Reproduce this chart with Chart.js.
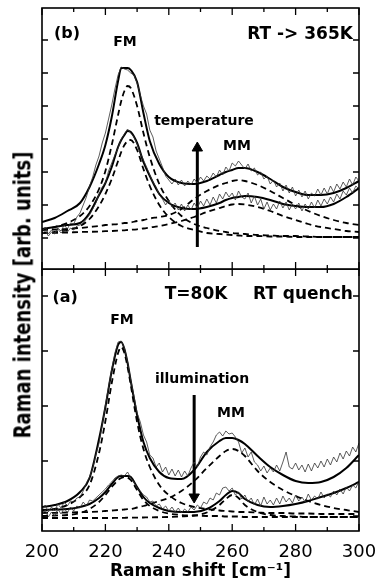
<!DOCTYPE html>
<html>
<head>
<meta charset="utf-8">
<script src="https://cdn.jsdelivr.net/npm/chart.js@4.4.1/dist/chart.umd.min.js"></script>
<style>
  body { margin: 0; background: #fff; }
  #wrap { position: relative; width: 378px; height: 588px; overflow: hidden; }
  #chartB { position: absolute; left: 0; top: 0; }
  #chartA { position: absolute; left: 0; top: 269px; }
  #ytitle {
    position: absolute; left: 22px; top: 295px;
    transform: translate(-50%, -50%) rotate(-90deg) scale(1, 1.3);
    font: bold 18px "DejaVu Sans"; white-space: nowrap; color: #000;
  }
</style>
</head>
<body>
<div id="wrap">
  <canvas id="chartB" width="378" height="270"></canvas>
  <canvas id="chartA" width="378" height="319"></canvas>
  <div id="ytitle">Raman intensity [arb. units]</div>
</div>
<script>
// Raman shift grids (cm^-1)
const rawShift = Array.from({ length: 101 }, (_, i) => 200 + i);
const fitShift = [200, 204, 208, 212, 215, 218, 220, 222, 224, 225, 226, 227, 228, 230, 232, 234, 237, 240,
  244, 248, 252, 256, 258, 260, 262, 264, 268, 272, 276, 280, 284, 288, 292, 296, 300];
const xTickLabels = [200, 220, 240, 260, 280, 300];
const xMinorTicks = [210, 230, 250, 270, 290];

// ---- panel (b): RT -> 365K ----
const dataB_hot = [3.7, 4.2, 3.5, 3.9, 3.6, 4.1, 3.8, 4.4, 4.0, 4.6,
  4.5, 5.2, 5.6, 6.4, 7.2, 8.3, 9.2, 10.4, 11.3, 12.6,
  13.6, 15.0, 16.4, 18.0, 19.4, 20.2, 20.0, 19.9, 19.6, 19.4,
  18.6, 17.4, 16.3, 15.5, 13.9, 13.2, 11.8, 11.0, 10.2, 9.3,
  8.9, 8.5, 9.0, 8.4, 8.9, 8.3, 8.8, 8.4, 9.0, 8.6,
  9.2, 8.8, 9.3, 9.0, 9.6, 9.2, 9.9, 9.4, 10.2, 9.8,
  10.6, 10.3, 10.8, 10.4, 10.0, 10.5, 9.8, 10.1, 9.4, 9.7,
  9.0, 9.3, 8.5, 8.9, 8.2, 8.6, 7.8, 8.4, 7.6, 8.2,
  7.3, 7.9, 7.2, 7.8, 7.0, 7.6, 7.3, 8.0, 7.4, 8.1,
  7.5, 8.3, 7.7, 8.5, 8.0, 8.7, 8.2, 9.0, 8.4, 9.2,
  8.8];
const dataB_rt = [3.4, 3.9, 3.3, 3.7, 3.5, 4.0, 3.6, 3.9, 3.7, 4.1,
  3.9, 4.3, 4.4, 4.6, 5.0, 5.4, 6.0, 6.6, 7.5, 8.2,
  8.6, 9.8, 10.6, 11.4, 12.1, 13.0, 13.5, 14.0, 13.6, 13.2,
  12.5, 11.6, 10.9, 10.2, 9.4, 8.7, 8.2, 7.4, 7.0, 6.4,
  6.9, 6.2, 6.6, 5.9, 6.5, 5.8, 6.4, 5.9, 6.6, 6.1,
  6.8, 6.3, 7.0, 6.4, 7.2, 6.6, 7.5, 7.0, 7.7, 7.2,
  7.6, 6.9, 7.8, 7.2, 7.0, 7.6, 6.6, 7.3, 6.4, 7.0,
  6.0, 6.7, 5.9, 6.5, 6.0, 6.8, 6.1, 6.7, 5.9, 6.5,
  6.0, 6.6, 5.8, 6.5, 6.0, 6.7, 6.1, 6.9, 6.3, 7.0,
  6.5, 7.2, 6.7, 7.5, 7.0, 7.8, 7.4, 8.1, 7.6, 8.3,
  8.0];
const fitB_hot = [4.7, 5.1, 5.8, 6.6, 8.2, 10.5, 12.4, 15.2, 18.8, 20.1, 20.1, 20.1, 19.9, 18.7, 15.6, 12.8, 10.5, 9.2,
  8.6, 8.5, 8.8, 9.4, 9.7, 9.9, 10.1, 10.1, 9.7, 9.0, 8.2, 7.7, 7.4, 7.4, 7.6, 8.1, 8.8];
const fitB_rt = [4.0, 4.2, 4.4, 4.6, 5.6, 7.4, 8.6, 10.2, 12.2, 12.9, 13.4, 13.8, 13.7, 12.6, 10.7, 9.3, 7.5, 6.6,
  6.1, 6.0, 6.2, 6.6, 6.9, 7.1, 7.2, 7.3, 7.2, 6.9, 6.5, 6.3, 6.2, 6.2, 6.5, 7.2, 8.1];
const fmB_hot = [3.9, 4.2, 4.6, 5.3, 6.3, 8.0, 9.8, 12.4, 15.4, 16.8, 17.8, 18.3, 18.1, 16.3, 13.6, 11.2, 8.5, 6.8,
  5.3, 4.5, 4.1, 3.8, 3.7, 3.6, 3.55, 3.5, 3.4, 3.35, 3.3, 3.3, 3.25, 3.2, 3.2, 3.2, 3.2];
const fmB_rt = [3.6, 3.7, 3.9, 4.3, 5.0, 6.3, 7.5, 9.0, 10.8, 11.7, 12.4, 12.8, 12.9, 11.9, 10.0, 8.3, 6.4, 5.2,
  4.3, 3.9, 3.6, 3.5, 3.45, 3.4, 3.35, 3.3, 3.3, 3.25, 3.25, 3.2, 3.2, 3.2, 3.2, 3.2, 3.2];
const mmB_hot = [3.9, 3.95, 4.0, 4.1, 4.2, 4.3, 4.4, 4.45, 4.5, 4.55, 4.6, 4.6, 4.65, 4.8, 4.9, 5.05, 5.2, 5.4,
  6.0, 7.0, 7.8, 8.4, 8.6, 8.8, 8.9, 8.8, 8.4, 7.8, 7.1, 6.4, 5.8, 5.3, 4.9, 4.6, 4.4];
const mmB_rt = [3.6, 3.62, 3.65, 3.7, 3.72, 3.75, 3.78, 3.8, 3.83, 3.85, 3.87, 3.9, 3.92, 3.97, 4.05, 4.15, 4.3, 4.5,
  4.8, 5.2, 5.7, 6.1, 6.3, 6.45, 6.5, 6.45, 6.2, 5.8, 5.3, 4.9, 4.5, 4.2, 4.0, 3.8, 3.7];

// ---- panel (a): T=80K, RT quench ----
const dataA_dark = [2.1, 2.6, 1.9, 2.4, 2.0, 2.7, 2.3, 2.9, 2.5, 3.0,
  2.9, 3.3, 3.4, 4.0, 4.8, 5.4, 6.3, 7.6, 8.8, 10.6,
  12.6, 14.4, 16.2, 17.8, 18.9, 19.0, 18.3, 16.9, 15.1, 13.5,
  11.8, 10.9, 9.6, 8.9, 7.6, 7.3, 6.4, 6.8, 5.9, 6.4,
  5.6, 6.2, 5.5, 6.1, 5.4, 6.0, 5.5, 6.3, 6.9, 6.4,
  7.4, 7.9, 7.6, 8.4, 8.9, 9.6, 9.9, 9.5, 10.0, 9.7,
  9.8, 9.4, 8.9, 7.8, 8.3, 7.4, 7.9, 6.9, 6.6, 6.0,
  6.5, 5.8, 6.3, 5.9, 6.6, 6.0, 6.9, 7.9, 6.4, 6.2,
  6.8, 6.1, 6.6, 5.9, 6.7, 6.0, 6.8, 6.3, 7.0, 6.4,
  7.2, 6.6, 7.4, 6.9, 7.8, 7.2, 8.0, 7.5, 8.4, 7.9,
  8.8];
const dataA_lit = [1.6, 2.1, 1.4, 1.9, 1.5, 2.2, 1.7, 2.3, 1.8, 2.4,
  2.0, 2.5, 2.3, 2.9, 2.5, 3.1, 3.0, 3.3, 3.6, 3.9,
  4.2, 4.6, 4.9, 5.3, 5.5, 5.6, 5.5, 5.9, 5.3, 4.9,
  4.3, 4.0, 3.6, 3.4, 2.9, 3.0, 2.5, 2.7, 2.2, 2.5,
  2.0, 2.4, 1.9, 2.3, 1.8, 2.2, 1.9, 2.4, 2.1, 2.6,
  2.3, 2.9, 2.7, 3.3, 3.1, 3.8, 3.6, 4.3, 4.4, 4.0,
  4.3, 3.6, 3.9, 3.2, 3.6, 2.9, 3.3, 2.6, 3.2, 2.5,
  3.4, 2.7, 3.1, 2.6, 3.3, 2.7, 3.5, 2.9, 3.3, 2.8,
  3.6, 3.0, 3.4, 2.9, 3.7, 3.1, 3.5, 3.2, 3.9, 3.3,
  3.7, 3.4, 4.0, 3.6, 4.2, 3.7, 4.4, 4.0, 4.6, 4.3,
  5.0];
const fitA_dark = [2.4, 2.6, 3.0, 3.9, 5.3, 9.2, 12.4, 16.0, 18.6, 18.9, 18.2, 16.8, 15.0, 11.6, 8.9, 7.3, 5.9, 5.3,
  5.2, 6.1, 7.9, 9.0, 9.3, 9.3, 9.1, 8.7, 7.5, 6.4, 5.6, 5.0, 4.8, 4.9, 5.4, 6.3, 7.6];
const fitA_lit = [2.1, 2.15, 2.2, 2.4, 2.7, 3.3, 3.9, 4.7, 5.4, 5.5, 5.5, 5.5, 5.4, 4.4, 3.4, 2.8, 2.3, 2.0,
  1.9, 1.9, 2.2, 3.0, 3.6, 4.0, 3.8, 3.2, 2.6, 2.4, 2.5, 2.7, 3.0, 3.4, 3.8, 4.3, 4.9];
const fmA_dark = [2.0, 2.2, 2.6, 3.4, 4.6, 7.8, 11.0, 14.8, 17.8, 18.4, 17.8, 16.4, 14.6, 10.9, 8.2, 6.4, 4.6, 3.6,
  2.8, 2.4, 2.2, 2.05, 2.0, 1.95, 1.9, 1.9, 1.85, 1.8, 1.8, 1.75, 1.75, 1.7, 1.7, 1.7, 1.7];
const fmA_lit = [1.5, 1.55, 1.6, 1.8, 2.2, 2.9, 3.6, 4.4, 5.1, 5.3, 5.4, 5.35, 5.1, 4.1, 3.1, 2.5, 2.0, 1.75,
  1.6, 1.55, 1.5, 1.5, 1.45, 1.45, 1.45, 1.4, 1.4, 1.4, 1.4, 1.4, 1.4, 1.4, 1.4, 1.4, 1.4];
const mmA_dark = [1.8, 1.82, 1.85, 1.88, 1.9, 1.95, 2.0, 2.05, 2.1, 2.12, 2.15, 2.18, 2.2, 2.35, 2.5, 2.7, 3.0, 3.3,
  4.0, 5.0, 6.3, 7.5, 8.0, 8.2, 8.0, 7.5, 6.0, 4.9, 4.1, 3.5, 3.0, 2.6, 2.3, 2.1, 1.9];
const mmA_lit = [1.3, 1.3, 1.3, 1.3, 1.3, 1.3, 1.3, 1.3, 1.32, 1.32, 1.32, 1.33, 1.33, 1.34, 1.35, 1.36, 1.38, 1.4,
  1.45, 1.55, 1.85, 2.6, 3.2, 3.6, 3.3, 2.6, 1.9, 1.6, 1.5, 1.45, 1.4, 1.4, 1.4, 1.4, 1.4];

// arrows: shift position, tail and head-centre intensities
const tempArrowShift = 249, tempArrowY = [2.2, 12.1];
const illumArrowShift = 248, illumArrowY = [13.6, 3.4];

// y tick values (arb. units)
const yTicksB = [22.9, 19.6, 16.3, 13.0, 9.7, 6.4, 3.1];
const yTicksA = [23.5, 18.0, 12.5, 7.0, 1.5];

const labelsB = [
  { text: '(b)', x: 207.9, y: 23.5, size: 16 },
  { text: 'FM', x: 226.2, y: 22.7, size: 14 },
  { text: 'RT -> 365K', x: 281.4, y: 23.4, size: 17 },
  { text: 'temperature', x: 251.1, y: 14.8, size: 14 },
  { text: 'MM', x: 261.5, y: 12.3, size: 14 }
];
const labelsA = [
  { text: '(a)', x: 207.3, y: 23.3, size: 16 },
  { text: 'T=80K', x: 248.6, y: 23.6, size: 17 },
  { text: 'RT quench', x: 282.3, y: 23.6, size: 17 },
  { text: 'FM', x: 225.2, y: 21.1, size: 14 },
  { text: 'illumination', x: 250.5, y: 15.2, size: 14 },
  { text: 'MM', x: 259.6, y: 11.8, size: 14 }
];

function curve(xs, ys, style) {
  return Object.assign({
    data: xs.map((x, i) => ({ x, y: ys[i] })),
    borderColor: '#000', pointRadius: 0, fill: false
  }, style);
}
const thin = { borderWidth: 0.8, borderColor: '#333', tension: 0 };
const solid = { borderWidth: 2, cubicInterpolationMode: 'monotone' };
const dashed = { borderWidth: 1.8, borderDash: [6, 4], cubicInterpolationMode: 'monotone' };

function arrow(xv, ys, rot) {
  return {
    data: ys.map(y => ({ x: xv, y })),
    borderColor: '#000', borderWidth: 3,
    pointRadius: [0, 6], pointStyle: 'triangle', pointRotation: rot,
    pointBackgroundColor: '#000', pointBorderColor: '#000', pointBorderWidth: 1
  };
}

// frame, inward ticks and in-plot labels
const framePlugin = {
  id: 'frame',
  afterDatasetsDraw(chart, args, opts) {
    const { ctx, chartArea: a } = chart;
    const x = chart.scales.x, y = chart.scales.y;
    ctx.save();
    ctx.strokeStyle = '#000';
    ctx.lineWidth = 1.6;
    ctx.strokeRect(a.left, a.top, a.right - a.left, a.bottom - a.top);
    ctx.lineWidth = 1.3;
    ctx.beginPath();
    const xt = (v, len) => {
      const px = x.getPixelForValue(v);
      ctx.moveTo(px, a.top); ctx.lineTo(px, a.top + len);
      ctx.moveTo(px, a.bottom); ctx.lineTo(px, a.bottom - len);
    };
    xTickLabels.forEach(v => xt(v, 7));
    xMinorTicks.forEach(v => xt(v, 4));
    opts.yTicks.forEach(v => {
      const py = y.getPixelForValue(v);
      ctx.moveTo(a.left, py); ctx.lineTo(a.left + 6, py);
      ctx.moveTo(a.right, py); ctx.lineTo(a.right - 6, py);
    });
    ctx.stroke();
    ctx.fillStyle = '#000';
    ctx.textAlign = 'center';
    ctx.textBaseline = 'middle';
    opts.labels.forEach(l => {
      ctx.font = 'bold ' + l.size + 'px "DejaVu Sans"';
      ctx.fillText(l.text, x.getPixelForValue(l.x), y.getPixelForValue(l.y));
    });
    ctx.restore();
  }
};

function makePanel(id, datasets, yMax, yTicks, labels, showX) {
  new Chart(document.getElementById(id), {
    type: 'line',
    data: { datasets },
    plugins: [framePlugin],
    options: {
      responsive: false,
      maintainAspectRatio: false,
      animation: false,
      events: [],
      layout: { autoPadding: false, padding: { left: 42, right: 19, top: showX ? 0 : 8, bottom: showX ? 0 : 1 } },
      plugins: {
        legend: { display: false },
        tooltip: { enabled: false },
        frame: { yTicks, labels }
      },
      scales: {
        x: {
          type: 'linear', min: 200, max: 300, display: showX,
          grid: { display: false, drawTicks: false },
          border: { display: false },
          ticks: { stepSize: 20, color: '#000', padding: 11, font: { family: 'DejaVu Sans', size: 18 } },
          title: {
            display: true, text: 'Raman shift [cm\u207B\u00B9]', color: '#000',
            font: { family: 'DejaVu Sans', size: 17, weight: 'bold' }, padding: { top: 0, bottom: 6 }
          },
          afterFit: s => {
            if (!showX) return;
            s.height = 57;
            s.paddingLeft = 0;
            s.paddingRight = 0;
          }
        },
        y: { type: 'linear', min: 0, max: yMax, display: false }
      }
    }
  });
}

makePanel('chartB', [
  curve(rawShift, dataB_hot, thin),
  curve(rawShift, dataB_rt, thin),
  curve(fitShift, fmB_hot, dashed),
  curve(fitShift, fmB_rt, dashed),
  curve(fitShift, mmB_hot, dashed),
  curve(fitShift, mmB_rt, dashed),
  curve(fitShift, fitB_hot, solid),
  curve(fitShift, fitB_rt, solid),
  arrow(tempArrowShift, tempArrowY, 0)
], 26.1, yTicksB, labelsB, false);

makePanel('chartA', [
  curve(rawShift, dataA_dark, thin),
  curve(rawShift, dataA_lit, thin),
  curve(fitShift, fmA_dark, dashed),
  curve(fitShift, fmA_lit, dashed),
  curve(fitShift, mmA_dark, dashed),
  curve(fitShift, mmA_lit, dashed),
  curve(fitShift, fitA_dark, solid),
  curve(fitShift, fitA_lit, solid),
  arrow(illumArrowShift, illumArrowY, 180)
], 26.2, yTicksA, labelsA, true);
</script>
</body>
</html>
